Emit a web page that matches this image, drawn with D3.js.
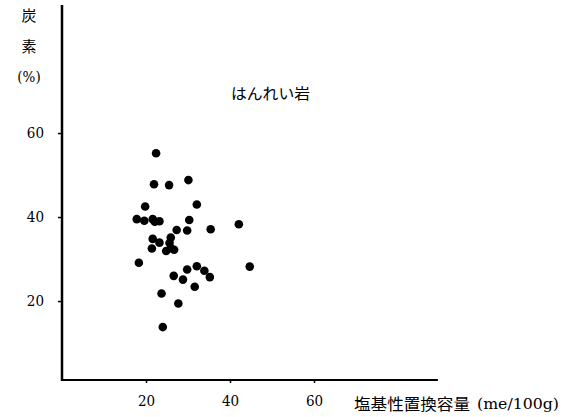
<!DOCTYPE html>
<html>
<head>
<meta charset="utf-8">
<script src="https://cdn.jsdelivr.net/npm/d3@7"></script>
<style>
  html, body { margin: 0; padding: 0; background: #fff; }
  svg { display: block; }
</style>
</head>
<body>
<svg id="chart" width="568" height="417"></svg>
<script>
// Base exchange capacity (me/100g) vs carbon (%) for gabbro soils
const capacity = [22.4, 21.9, 25.5, 30.1, 19.8, 32.1, 17.8, 19.6, 21.6, 22.1,
                  23.2, 30.3, 42.1, 27.3, 29.8, 35.4, 21.6, 25.9, 23.2, 21.4,
                  24.8, 25.9, 26.7, 18.3, 32.1, 29.8, 33.9, 35.2, 44.7, 26.6,
                  28.8, 31.6, 23.7, 27.7, 24.0, 25.6];
const carbon   = [55.2, 47.8, 47.6, 48.8, 42.5, 43.0, 39.5, 39.1, 39.5, 38.9,
                  39.0, 39.3, 38.3, 36.9, 36.8, 37.1, 34.8, 35.1, 33.9, 32.5,
                  31.9, 32.6, 32.2, 29.1, 28.3, 27.5, 27.2, 25.7, 28.2, 26.0,
                  25.1, 23.4, 21.8, 19.4, 13.8, 33.8];
const xTicks = [20, 40, 60];
const yTicks = [20, 40, 60];

const serif = "'DejaVu Serif Condensed', 'DejaVu Serif', serif";
const jpFont = "'Noto Sans CJK JP', sans-serif";

const svg = d3.select("#chart");
const pxPerUnit = 4.2;
const x0 = 62, yBase = 380;
const x = d3.scaleLinear().domain([0, 90]).range([x0, x0 + 90 * pxPerUnit]);
const y = d3.scaleLinear().domain([1.2, 90.5]).range([yBase, yBase - 89.3 * pxPerUnit]);

function styleTicks(g) {
  g.select(".domain").remove();
  g.selectAll(".tick line").attr("stroke", "#000").attr("stroke-width", 1.5);
  g.selectAll(".tick text")
    .attr("font-family", serif).attr("font-size", 15)
    .attr("fill", "#000");
}

// y axis ticks and labels
svg.append("g")
  .attr("transform", `translate(${x0},0)`)
  .call(d3.axisLeft(y).tickValues(yTicks).tickSize(4).tickPadding(14).tickFormat(d3.format("d")))
  .call(styleTicks);

// x axis ticks and labels
svg.append("g")
  .attr("transform", `translate(0,${yBase})`)
  .call(d3.axisBottom(x).tickValues(xTicks).tickSize(3).tickPadding(12).tickFormat(d3.format("d")))
  .call(styleTicks);

// axis lines
svg.append("line")
  .attr("x1", x(0)).attr("x2", x(0))
  .attr("y1", y(90.5)).attr("y2", yBase + 1)
  .attr("stroke", "#000").attr("stroke-width", 2.5);
svg.append("line")
  .attr("x1", x(0) - 1).attr("x2", x(89.5))
  .attr("y1", yBase).attr("y2", yBase)
  .attr("stroke", "#000").attr("stroke-width", 2);

// points
svg.append("g").selectAll("circle")
  .data(capacity.map((c, i) => [c, carbon[i]]))
  .join("circle")
  .attr("cx", d => x(d[0]))
  .attr("cy", d => y(d[1]))
  .attr("r", 4.3)
  .attr("fill", "#000");

// y axis title, stacked vertically
const yLab = svg.append("g").attr("text-anchor", "middle").attr("fill", "#000");
yLab.append("text").attr("x", 29).attr("y", 21)
  .attr("font-family", jpFont).attr("font-size", 15).text("炭");
yLab.append("text").attr("x", 29).attr("y", 52)
  .attr("font-family", jpFont).attr("font-size", 15).text("素");
yLab.append("text").attr("x", 29).attr("y", 82)
  .attr("font-family", serif).attr("font-size", 15).text("(%)");

// rock type
svg.append("text")
  .attr("font-family", jpFont).attr("fill", "#000")
  .attr("x", 231).attr("y", 99)
  .attr("font-size", 15).attr("textLength", 79).attr("lengthAdjust", "spacingAndGlyphs")
  .text("はんれい岩");

// x axis title
svg.append("text")
  .attr("font-family", jpFont).attr("fill", "#000")
  .attr("x", 354).attr("y", 410)
  .attr("font-size", 16).attr("textLength", 116).attr("lengthAdjust", "spacingAndGlyphs")
  .text("塩基性置換容量");
svg.append("text")
  .attr("font-family", serif).attr("fill", "#000")
  .attr("x", 477).attr("y", 409)
  .attr("font-size", 15)
  .attr("textLength", 82).attr("lengthAdjust", "spacingAndGlyphs")
  .text("(me/100g)");
</script>
</body>
</html>
